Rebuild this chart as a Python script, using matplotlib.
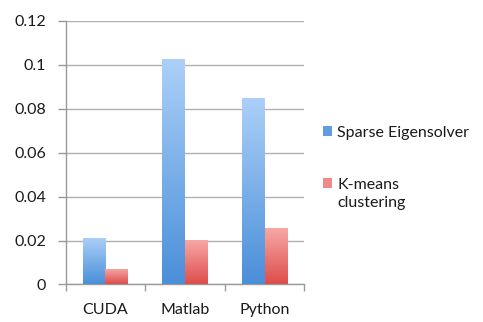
import numpy as np
import matplotlib.pyplot as plt
from matplotlib.colors import LinearSegmentedColormap
from matplotlib.patches import Patch
from matplotlib.text import Annotation

# Data
categories = ['CUDA', 'Matlab', 'Python']
eigensolver = [0.0213, 0.1027, 0.0851]
kmeans = [0.0071, 0.0204, 0.0256]
series_labels = ['Sparse Eigensolver', 'K-means']
yticks = [0, 0.02, 0.04, 0.06, 0.08, 0.1, 0.12]

plt.rcParams['font.family'] = ['Lato', 'DejaVu Sans']
txt = '#1a1a1a'
fs = 11.5

blue_top, blue_bot = '#acd0f8', '#4a8fd9'
red_top, red_bot = '#f7aaa8', '#dd4d4a'

fig = plt.figure(figsize=(4.83, 3.22), dpi=100)
ax = fig.add_axes([0.136, 0.1165, 0.4944, 0.8183])

x = np.arange(len(categories))
w = 0.288


def gradient_bars(xpos, vals, top, bot):
    bars = ax.bar(xpos, vals, w, color=bot, zorder=3, linewidth=0)
    cmap = LinearSegmentedColormap.from_list('g', [bot, top])
    grad = np.linspace(0, 1, 256).reshape(-1, 1)
    for b in bars:
        x0, y0 = b.get_x(), b.get_y()
        im = ax.imshow(grad, cmap=cmap, origin='lower', aspect='auto',
                       extent=[x0, x0 + b.get_width(), y0, y0 + b.get_height()],
                       zorder=4)
        im.set_clip_path(b)
    return bars


gradient_bars(x - w / 2, eigensolver, blue_top, blue_bot)
gradient_bars(x + w / 2, kmeans, red_top, red_bot)

ax.set_xlim(-0.5, len(categories) - 0.5)
ax.set_ylim(0, 0.12)
ax.set_yticks(yticks)
ax.set_yticklabels(['%g' % v for v in yticks])
ax.set_xticks(x)
ax.set_xticklabels(categories)
ax.set_xticks(np.arange(len(categories) + 1) - 0.5, minor=True)
ax.tick_params(axis='x', which='major', length=0, pad=13, labelsize=fs, labelcolor=txt)
ax.tick_params(axis='x', which='minor', length=5, color='#9a9a9a', width=1)
ax.tick_params(axis='y', length=6, color='#9a9a9a', width=1, pad=8, labelsize=fs, labelcolor=txt)

ax.grid(axis='y', color='#b0b0b0', linewidth=1, zorder=0)
ax.set_axisbelow(True)
for s in ['top', 'right']:
    ax.spines[s].set_visible(False)
for s in ['left', 'bottom']:
    ax.spines[s].set_color('#9a9a9a')
    ax.spines[s].set_linewidth(1)

handles = [Patch(facecolor='#5f9ce0'), Patch(facecolor='#ee8a87')]
leg = fig.legend(handles, series_labels, loc='center left', bbox_to_anchor=(0.668, 0.507),
                 frameon=False, fontsize=fs, handlelength=0.6, handleheight=0.6,
                 handletextpad=0.3, labelspacing=2.35, borderaxespad=0, borderpad=0)
for t in leg.get_texts():
    t.set_color(txt)

# second line of the K-means label, under its first line (drawn after the legend)
second = Annotation('clustering', xy=(0, 0), xycoords=leg.get_texts()[1],
                    xytext=(0, -3), textcoords='offset points', va='top', ha='left',
                    fontsize=fs, color=txt, zorder=10)
fig.add_artist(second)

plt.savefig('out.png', dpi=100)
